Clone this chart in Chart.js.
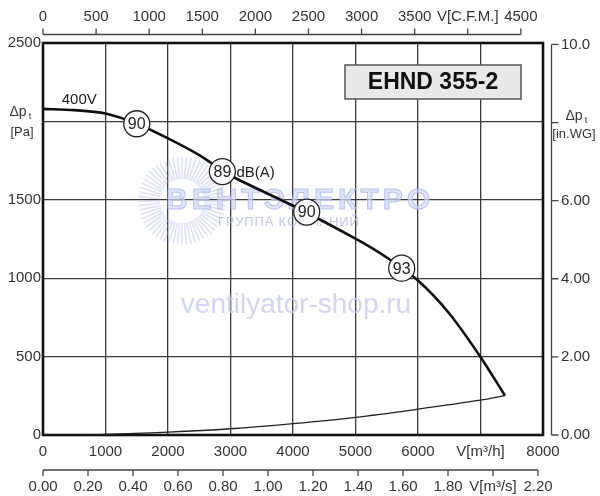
<!DOCTYPE html>
<html><head><meta charset="utf-8">
<script src="https://cdn.jsdelivr.net/npm/chart.js@4/dist/chart.umd.min.js"></script>
<style>html,body{margin:0;padding:0;background:#fff}</style>
</head><body>
<canvas id="c" width="600" height="496"></canvas>
<script>
// ---- data ----
const flowTicks = [0,1000,2000,3000,4000,5000,6000,7000,8000];          // m3/h
const pressureTicks = [0,500,1000,1500,2000,2500];                      // Pa
const cfmTicks = [0,500,1000,1500,2000,2500,3000,3500,4000,4500];       // CFM
const m3sTicks = [0,0.2,0.4,0.6,0.8,1.0,1.2,1.4,1.6,1.8,2.0,2.2];      // m3/s
const inwgTicks = [0,2,4,6,8,10];                                       // in.WG
const fanFlow = [0,500,1000,1500,2000,2500,3000,4000,5000,5500,6000,6500,7000,7392];
const fanPa   = [2080,2072,2050,1985,1892,1785,1655,1462,1252,1132,985,775,498,251];
const sysFlow = [0,1000,2000,3000,4000,5000,6000,7000,7392];
const sysPa   = [0,4,18,40,73,113,165,222,251];
const noiseFlow = [1500,2870,4219,5739];
const noisePa   = [1985,1680,1422,1064];
const noiseDb   = ['90','89','90','93'];
const title = 'EHND 355-2';
const voltageLabel = '400V';
const CFM_TO_M3H = 1.699, M3S_TO_M3H = 3600, INWG_TO_PA = 249.09;

const FONT = "'Liberation Sans', Arial, sans-serif";
const TXT = '#333';

const extras = {
  id: 'extras',
  beforeDatasetsDraw(chart) {
    const ctx = chart.ctx, a = chart.chartArea;
    // watermark
    ctx.save();
    const cx = 182, cy = 201;
    ctx.strokeStyle = 'rgba(170,185,235,0.4)';
    ctx.lineWidth = 1.6;
    for (let i = 0; i < 60; i++) {
      const ang = i * Math.PI * 2 / 60;
      ctx.beginPath();
      ctx.moveTo(cx + Math.cos(ang) * 22, cy + Math.sin(ang) * 22);
      ctx.lineTo(cx + Math.cos(ang) * 44, cy + Math.sin(ang) * 44);
      ctx.stroke();
    }
    ctx.font = `bold 30px ${FONT}`;
    ctx.textBaseline = 'middle';
    ctx.textAlign = 'left';
    ctx.fillStyle = 'rgba(210,218,246,0.7)';
    ctx.strokeStyle = 'rgba(165,180,232,0.75)';
    ctx.lineWidth = 1;
    let x0 = 166;
    for (const ch of 'ВЕНТЭЛЕКТРО') {
      ctx.fillText(ch, x0, 201);
      ctx.strokeText(ch, x0, 201);
      x0 += ctx.measureText(ch).width + 4;
    }
    ctx.font = `13px ${FONT}`;
    ctx.fillStyle = 'rgba(175,186,226,0.8)';
    let x1 = 218;
    for (const ch of 'ГРУППА КОМПАНИЙ') {
      ctx.fillText(ch, x1, 222);
      x1 += ctx.measureText(ch).width + 0.8;
    }
    ctx.font = `28px ${FONT}`;
    ctx.fillStyle = 'rgba(202,208,238,0.85)';
    ctx.textAlign = 'center';
    ctx.fillText('ventilyator-shop.ru', 296, 305);
    ctx.restore();

    // plot border
    ctx.save();
    ctx.strokeStyle = '#111';
    ctx.lineWidth = 2.6;
    ctx.strokeRect(a.left, a.top, a.right - a.left, a.bottom - a.top);
    ctx.restore();
  },
  afterDatasetsDraw(chart) {
    const ctx = chart.ctx;
    const X = chart.scales.x, Y = chart.scales.y;
    ctx.save();
    ctx.fillStyle = '#222';
    ctx.font = `16px ${FONT}`;
    ctx.textAlign = 'center';
    ctx.textBaseline = 'middle';
    noiseFlow.forEach((f, i) => {
      ctx.fillText(noiseDb[i], X.getPixelForValue(f), Y.getPixelForValue(noisePa[i]) + 1);
    });
    ctx.font = `15px ${FONT}`;
    ctx.textAlign = 'left';
    ctx.fillText('dB(A)', X.getPixelForValue(noiseFlow[1]) + 14, Y.getPixelForValue(noisePa[1]) + 1);
    ctx.fillText(voltageLabel, X.getPixelForValue(300), Y.getPixelForValue(2140));

    // title box
    ctx.font = `bold 23px ${FONT}`;
    ctx.fillStyle = '#e9e9e9';
    ctx.strokeStyle = '#555';
    ctx.lineWidth = 1.5;
    ctx.fillRect(345, 65, 176, 34);
    ctx.strokeRect(345, 65, 176, 34);
    ctx.fillStyle = '#111';
    ctx.textAlign = 'center';
    ctx.fillText(title, 433, 83);
    ctx.restore();
  },
  afterDraw(chart) {
    const ctx = chart.ctx;
    const X = chart.scales.x, Y = chart.scales.y;
    ctx.save();
    ctx.strokeStyle = '#444';
    ctx.lineWidth = 1.3;
    ctx.fillStyle = TXT;
    ctx.font = `15px ${FONT}`;
    ctx.textBaseline = 'middle';

    // top CFM axis
    const yTop = 34.5;
    const tx = v => X.getPixelForValue(v * CFM_TO_M3H);
    ctx.beginPath();
    ctx.moveTo(tx(cfmTicks[0]), yTop);
    ctx.lineTo(tx(cfmTicks[cfmTicks.length - 1]), yTop);
    cfmTicks.forEach(v => { ctx.moveTo(tx(v), yTop); ctx.lineTo(tx(v), yTop - 6); });
    ctx.stroke();
    ctx.textAlign = 'center';
    cfmTicks.forEach(v => ctx.fillText(v === 4000 ? 'V[C.F.M.]' : String(v), tx(v), 17));

    // bottom m3/s axis
    const yB = 470;
    const bx = v => X.getPixelForValue(v * M3S_TO_M3H);
    ctx.beginPath();
    ctx.moveTo(bx(m3sTicks[0]), yB);
    ctx.lineTo(bx(m3sTicks[m3sTicks.length - 1]), yB);
    m3sTicks.forEach(v => { ctx.moveTo(bx(v), yB); ctx.lineTo(bx(v), yB + 6); });
    ctx.stroke();
    m3sTicks.forEach(v => ctx.fillText(Math.abs(v - 2.0) < 1e-9 ? 'V[m³/s]' : v.toFixed(2), bx(v), 487));

    // right in.WG axis
    const xR = 551.5;
    const ry = v => Y.getPixelForValue(v * INWG_TO_PA);
    ctx.beginPath();
    ctx.moveTo(xR, ry(inwgTicks[inwgTicks.length - 1]));
    ctx.lineTo(xR, ry(inwgTicks[0]));
    inwgTicks.forEach(v => { ctx.moveTo(xR, ry(v)); ctx.lineTo(xR + 7, ry(v)); });
    ctx.stroke();
    ctx.textAlign = 'left';
    inwgTicks.forEach(v => {
      if (v === 8) return;
      ctx.fillText(v === 10 ? '10.0' : v.toFixed(2), 561, ry(v));
    });

    // axis titles
    const drawDp = (xc, yc) => {
      ctx.font = `14px ${FONT}`;
      ctx.textAlign = 'center';
      ctx.fillText('Δp', xc - 2, yc);
      ctx.font = `9px ${FONT}`;
      ctx.fillText('t', xc + 10, yc + 5);
    };
    drawDp(20, 112);
    ctx.font = `13px ${FONT}`;
    ctx.textAlign = 'center';
    ctx.fillText('[Pa]', 22, 132);
    drawDp(576, 116);
    ctx.font = `13px ${FONT}`;
    ctx.textAlign = 'center';
    ctx.fillText('[in.WG]', 574, 134);
    ctx.restore();
  }
};

const toPts = (xs, ys) => xs.map((x, i) => ({x, y: ys[i]}));

new Chart(document.getElementById('c'), {
  type: 'line',
  data: {
    datasets: [
      { type: 'scatter', data: toPts(noiseFlow, noisePa), pointRadius: 13, pointBackgroundColor: '#fff',
        pointBorderColor: '#222', pointBorderWidth: 1.3, showLine: false },
      { data: toPts(fanFlow, fanPa), borderColor: '#111', borderWidth: 2.6, pointRadius: 0,
        tension: 0.3, fill: false },
      { data: toPts(sysFlow, sysPa), borderColor: '#222', borderWidth: 1.3, pointRadius: 0,
        tension: 0.3, fill: false }
    ]
  },
  options: {
    responsive: false,
    animation: false,
    devicePixelRatio: 1,
    layout: { padding: { top: 43, right: 57, left: 0, bottom: 0 } },
    plugins: { legend: { display: false }, tooltip: { enabled: false } },
    scales: {
      x: {
        type: 'linear', min: 0, max: 8000,
        afterBuildTicks: s => { s.ticks = flowTicks.map(v => ({ value: v })); },
        afterFit: s => { s.height = 61; },
        ticks: { autoSkip: false, maxRotation: 0, padding: 8, color: TXT,
                 font: { family: FONT, size: 15 },
                 callback: v => v === 7000 ? 'V[m³/h]' : String(v) },
        grid: { color: '#3a3a3a', lineWidth: 1.3, drawTicks: false },
        border: { display: false }
      },
      y: {
        type: 'linear', min: 0, max: 2500,
        afterBuildTicks: s => { s.ticks = pressureTicks.map(v => ({ value: v })); },
        afterFit: s => { s.width = 43; },
        ticks: { autoSkip: false, padding: 2, color: TXT,
                 font: { family: FONT, size: 15 },
                 callback: v => v === 2000 ? '' : String(v) },
        grid: { color: '#3a3a3a', lineWidth: 1.3, drawTicks: false },
        border: { display: false }
      }
    }
  },
  plugins: [extras]
});
</script>
</body></html>
